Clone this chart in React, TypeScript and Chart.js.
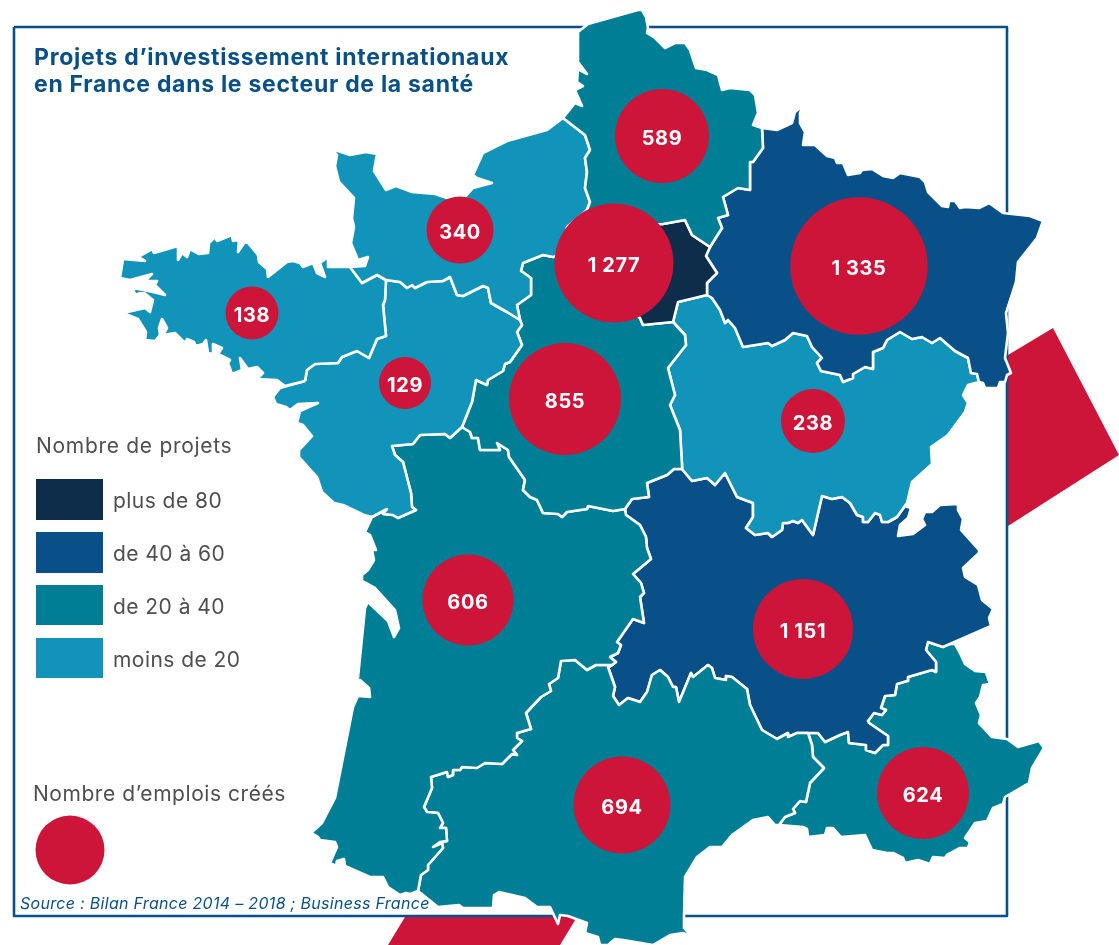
import React, { useEffect, useRef } from "react";
import { Chart, registerables } from "chart.js";

Chart.register(...registerables);

type Pt = [number, number];

// Map outlines, in map units. Shared borders are kept once and reused.
const hdfCoast: Pt[] = [[563,118],[575,103],[582,106],[575,90],[583,86],[577,82],[578,69],[587,74],[578,62],[578,32],[588,24],[638,10],[642,10],[646,17],[648,28],[647,33],[655,38],[665,48],[675,43],[685,43],[690,50],[696,68],[707,70],[718,75],[722,90],[730,88],[750,90],[755,95],[758,113],[753,125],[762,128]];
const hdfGrandEst: Pt[] = [[762,128],[763,148],[753,162],[750,162],[750,190],[738,188],[723,197],[728,215],[718,218],[722,228],[710,247]];
const hdfIdf: Pt[] = [[710,247],[692,235],[685,220],[663,224],[640,225],[600,225]];
const hdfWest: Pt[] = [[600,225],[587,210],[590,202]];
const hdfNormandy: Pt[] = [[590,202],[585,188],[587,172],[585,158],[590,150],[585,135],[563,118]];
const idfGrandEst: Pt[] = [[710,247],[706,256],[717,273],[707,283],[707,295]];
const idfSouth: Pt[] = [[707,295],[678,302],[673,322],[643,325],[640,318],[620,300],[560,255]];
const idfNormandy: Pt[] = [[560,255],[567,227],[587,210],[590,202]];
const normandyCoast: Pt[] = [[563,118],[547,130],[507,141],[483,153],[473,175],[477,178],[492,183],[473,188],[465,197],[447,198],[435,194],[412,192],[396,186],[386,190],[374,171],[377,154],[366,152],[350,155],[332,149],[337,155],[335,166],[339,182],[354,198],[352,218],[354,227],[351,243],[358,260],[368,257],[365,266],[350,267]];
const normandyBrittany: Pt[] = [[350,267],[362,283],[377,275],[386,280]];
const normandyLoire: Pt[] = [[386,280],[400,282],[407,288],[412,285],[415,288],[427,282],[443,281],[450,277],[457,295],[463,296],[483,286],[488,288],[491,303],[507,312],[520,320]];
const normandyCentre: Pt[] = [[520,320],[517,305],[531,295],[531,278],[521,271],[523,263],[543,255],[553,257],[560,255]];
const brittanyCoast: Pt[] = [[350,267],[328,267],[328,257],[320,263],[325,277],[317,273],[313,263],[303,267],[300,263],[293,261],[287,262],[268,277],[267,269],[259,262],[258,255],[248,243],[245,242],[238,252],[239,240],[233,241],[232,235],[217,241],[215,237],[209,243],[208,253],[199,254],[190,249],[187,257],[182,253],[178,260],[178,246],[154,253],[152,249],[138,257],[145,261],[123,259],[120,278],[130,280],[152,274],[145,281],[157,281],[155,285],[165,295],[153,292],[133,288],[135,295],[143,292],[153,300],[150,312],[145,308],[123,313],[138,319],[146,332],[145,340],[155,341],[160,335],[159,328],[162,319],[167,328],[163,335],[175,333],[185,343],[187,339],[194,342],[196,346],[203,344],[206,340],[208,353],[213,354],[213,344],[222,348],[218,354],[230,360],[228,363],[232,374],[242,370],[240,358],[248,369],[257,367],[263,373],[257,379],[277,380],[285,386],[305,381]];
const brittanyLoire: Pt[] = [[305,381],[307,370],[315,364],[338,363],[342,357],[357,351],[369,358],[377,339],[386,336],[383,305],[385,300],[386,280]];
const loireCentre: Pt[] = [[520,320],[522,325],[517,332],[522,345],[510,362],[505,364],[503,371],[488,380],[487,385],[476,380],[472,402],[462,427]];
const loireAquitaine: Pt[] = [[462,427],[450,438],[445,434],[420,435],[413,444],[392,446],[395,455],[403,462],[411,493],[412,507],[416,510],[398,518],[393,515],[383,514],[387,509],[372,517]];
const loireCoast: Pt[] = [[372,517],[364,515],[343,505],[334,503],[322,492],[317,477],[299,457],[299,450],[312,436],[303,425],[297,423],[300,411],[318,403],[298,404],[290,410],[286,407],[276,404],[273,397],[280,388],[305,381]];
const centreAquitaine: Pt[] = [[462,427],[470,432],[472,438],[478,438],[480,450],[500,450],[497,443],[508,450],[509,457],[525,480],[523,490],[530,497],[537,500],[543,513],[558,514],[562,517],[567,512],[587,509],[588,506],[613,511],[625,509]];
const centreAuvergne: Pt[] = [[625,509],[632,499],[649,497],[647,483],[667,475],[674,469],[682,469]];
const centreBourgogne: Pt[] = [[682,469],[682,465],[680,430],[670,405],[675,395],[668,368],[686,345],[685,335],[673,322]];
const bourgogneGrandEst: Pt[] = [[707,295],[712,298],[720,310],[725,323],[728,320],[735,328],[743,347],[768,343],[772,346],[785,340],[793,333],[807,336],[812,347],[822,358],[817,363],[821,371],[840,375],[843,382],[853,378],[853,374],[865,367],[873,369],[873,352],[883,348],[887,340],[900,332],[912,339],[922,337],[932,343],[940,338],[955,351],[968,358],[971,373],[977,374],[979,382]];
const bourgogneEast: Pt[] = [[979,382],[968,385],[963,395],[968,403],[965,412],[948,435],[931,447],[932,464],[912,482],[907,503]];
const bourgogneAuvergne: Pt[] = [[907,503],[897,517],[888,522],[882,522],[880,515],[875,513],[868,522],[863,522],[863,517],[857,515],[850,503],[842,497],[832,499],[822,496],[813,535],[802,520],[798,523],[793,521],[788,523],[783,523],[782,530],[772,537],[768,533],[755,535],[746,528],[753,517],[753,503],[737,497],[725,473],[715,485],[707,478],[692,481],[682,469]];
const grandEstBorder: Pt[] = [[762,128],[777,130],[792,123],[795,112],[803,106],[800,113],[800,123],[805,132],[803,145],[815,145],[827,156],[835,158],[837,163],[843,163],[848,175],[860,173],[862,170],[872,169],[883,176],[893,178],[900,173],[920,177],[925,182],[928,192],[942,206],[948,207],[949,201],[955,201],[960,208],[965,207],[979,208],[989,203],[1003,213],[1030,216],[1043,221],[1037,238],[1018,262],[1016,282],[1006,313],[1008,333],[1005,358],[1011,373],[1007,375],[1005,382],[1000,382],[998,388],[985,388],[983,383],[979,382]];
const aquitaineCoast: Pt[] = [[372,517],[365,532],[370,535],[376,550],[372,550],[374,560],[368,570],[362,575],[362,581],[375,588],[395,610],[399,628],[394,637],[388,621],[368,602],[365,608],[357,687],[360,680],[369,688],[370,697],[358,696],[353,707],[335,798],[322,823],[311,833],[318,837],[320,840],[335,842],[337,847],[330,863],[336,866],[337,861],[344,859],[345,866],[370,877],[383,877],[388,887],[400,895],[406,893],[410,894],[418,891]];
const aquitaineOccitanie: Pt[] = [[418,891],[421,875],[428,870],[428,865],[443,848],[442,843],[433,847],[440,842],[447,841],[446,828],[440,828],[443,823],[438,813],[427,812],[424,807],[432,788],[431,777],[447,772],[448,777],[453,775],[453,770],[460,770],[462,767],[477,768],[485,763],[502,764],[512,754],[517,755],[513,750],[522,741],[517,738],[517,733],[531,729],[526,713],[541,697],[551,691],[549,684],[558,678],[561,661],[575,660],[587,670],[596,665],[612,665]];
const aquitaineAuvergne: Pt[] = [[612,665],[616,662],[610,657],[618,653],[621,645],[617,642],[633,619],[644,623],[640,597],[644,593],[641,583],[633,574],[651,559],[647,548],[646,537],[640,525],[626,515],[625,509]];
const occitanieAuvergne: Pt[] = [[612,665],[608,667],[615,687],[613,696],[619,705],[628,698],[640,702],[647,692],[652,675],[660,670],[668,677],[673,687],[676,687],[679,702],[691,673],[693,677],[708,665],[712,668],[715,678],[726,680],[726,676],[732,677],[747,689],[750,705],[762,730],[777,739],[788,733],[788,737],[797,733],[808,733]];
const occitaniePaca: Pt[] = [[808,733],[812,745],[813,757],[824,768],[810,783],[806,802],[800,801],[793,809],[795,813],[785,817],[779,825]];
const occitanieCoast: Pt[] = [[779,825],[775,825],[768,817],[753,820],[732,835],[722,847],[710,847],[697,857],[685,877],[684,917],[684,928],[692,937],[683,933],[670,935],[653,945],[623,940],[615,939],[608,945],[600,945],[598,937],[585,933],[587,923],[568,916],[560,915],[558,924],[550,907],[537,907],[525,898],[499,892],[494,895],[493,908],[463,908],[459,905],[438,907],[418,891]];
const pacaAuvergne: Pt[] = [[808,733],[818,733],[825,742],[840,735],[848,732],[849,743],[866,745],[866,750],[875,753],[883,745],[888,745],[888,736],[869,723],[868,721],[874,713],[882,715],[886,710],[881,708],[885,696],[895,695],[897,684],[907,681],[908,677],[932,670],[936,672],[936,662],[926,650],[928,642],[943,647]];
const pacaCoast: Pt[] = [[943,647],[947,644],[955,644],[960,653],[965,664],[975,671],[986,672],[990,684],[983,685],[980,697],[976,703],[981,715],[979,723],[992,737],[1007,739],[1018,747],[1039,741],[1044,748],[1032,768],[1029,783],[1005,797],[1003,804],[993,808],[987,821],[975,823],[965,838],[970,842],[968,848],[960,848],[947,855],[945,858],[933,857],[930,864],[918,860],[905,863],[903,858],[893,853],[887,853],[872,850],[865,835],[841,837],[833,828],[827,828],[825,835],[808,837],[807,829],[803,827],[779,825]];
const auvergneEast: Pt[] = [[907,503],[908,507],[911,508],[908,518],[900,525],[898,536],[913,534],[925,525],[922,519],[925,512],[932,512],[940,505],[958,504],[958,510],[963,519],[961,530],[979,550],[979,553],[963,568],[965,577],[978,585],[982,600],[993,609],[989,618],[991,626],[943,647]];

const rev = (a: Pt[]): Pt[] => [...a].reverse();
const join = (...parts: Pt[][]): Pt[] => parts.flat();

const regionNames = ["Hauts-de-France","Île-de-France","Normandie","Bretagne","Pays de la Loire","Centre-Val de Loire","Grand Est","Bourgogne-Franche-Comté","Nouvelle-Aquitaine","Occitanie","Auvergne-Rhône-Alpes","Provence-Alpes-Côte d'Azur"];
const regionClass = [2,0,3,3,3,2,1,3,2,2,1,2];
const regionOutlines: Pt[][] = [
  join(hdfCoast, hdfGrandEst, hdfIdf, hdfWest, hdfNormandy),
  join(rev(hdfIdf), idfGrandEst, idfSouth),
  join(rev(hdfNormandy), rev(idfNormandy), rev(normandyCentre), rev(normandyLoire), rev(normandyBrittany), rev(normandyCoast)),
  join(rev(brittanyCoast), normandyBrittany, rev(brittanyLoire)),
  join(brittanyLoire, normandyLoire, loireCentre, loireAquitaine, loireCoast),
  join(rev(normandyCentre), loireCentre, centreAquitaine, centreAuvergne, centreBourgogne, idfSouth.slice(2)),
  join(rev(hdfGrandEst), grandEstBorder, rev(bourgogneGrandEst), rev(idfGrandEst)),
  join(bourgogneGrandEst, bourgogneEast, bourgogneAuvergne, centreBourgogne, [[678,302],[707,295]]),
  join(aquitaineCoast, aquitaineOccitanie, aquitaineAuvergne, rev(centreAquitaine), loireAquitaine),
  join(occitanieCoast, aquitaineOccitanie, occitanieAuvergne, occitaniePaca),
  join(rev(centreAuvergne), rev(aquitaineAuvergne), occitanieAuvergne, pacaAuvergne, rev(auvergneEast), rev(bourgogneAuvergne)),
  join(rev(occitaniePaca), pacaAuvergne, pacaCoast),
];

const classColors = ["#0d2d4b", "#0a5088", "#007e96", "#1293b9"];
const classLabels = ["plus de 80", "de 40 à 60", "de 20 à 40", "moins de 20"];

const jobLabels = ["589", "340", "1 277", "1 335", "138", "129", "855", "238", "606", "1 151", "694", "624"];
const bubbleX = [662, 460, 614, 859, 252, 405, 565, 813, 468, 803, 622, 923];
const bubbleY = [136, 230, 263, 266, 313, 383, 399, 421, 600, 629, 805, 793];
const bubbleR = [47, 33.5, 59.5, 68.7, 26.5, 26, 56, 32, 45.5, 50, 48.5, 46];

const frameLine: Pt[] = [[14,27],[1007,27],[1007,916],[14,916],[14,27]];
const redRight: Pt[] = [[1008,355],[1053,328],[1119,455],[1008,526]];
const redBottom: Pt[] = [[405,917],[577,917],[560,945],[388,945]];
const swatchBoxes: Pt[][] = [
  [[36,479],[103,479],[103,520],[36,520]],
  [[36,532],[103,532],[103,573],[36,573]],
  [[36,585],[103,585],[103,625],[36,625]],
  [[36,638],[103,638],[103,678],[36,678]],
];
const legendBubble = { x: 70, y: 850, r: 34.5 };

const titleLines = ["Projets d’investissement internationaux", "en France dans le secteur de la santé"];
const legendTitle = "Nombre de projets";
const bubbleLegendTitle = "Nombre d’emplois créés";
const sourceText = "Source : Bilan France 2014 – 2018 ; Business France";

const FONT = "Inter, 'Noto Sans', sans-serif";
const BLUE = "#0a5088";
const RED = "#cc1539";
const GREY = "#4f4f4f";

const toXY = (pts: Pt[]) => pts.map(([x, y]) => ({ x, y }));

const polyFill = {
  id: "polyFill",
  beforeDatasetDraw(chart: any, args: any) {
    const ds = chart.data.datasets[args.index];
    if (!ds.polyColor) return;
    const pts = args.meta.data;
    const ctx = chart.ctx;
    ctx.save();
    ctx.beginPath();
    pts.forEach((p: any, i: number) => (i ? ctx.lineTo(p.x, p.y) : ctx.moveTo(p.x, p.y)));
    ctx.closePath();
    ctx.fillStyle = ds.polyColor;
    ctx.fill();
    ctx.restore();
  },
};

const textLayer = {
  id: "textLayer",
  afterDatasetsDraw(chart: any) {
    const ctx = chart.ctx;
    const sx = chart.scales.x;
    const sy = chart.scales.y;
    const putPx = (s: string, x: number, y: number, font: string, color: string, spacing = 0, align: CanvasTextAlign = "left") => {
      ctx.font = font;
      ctx.fillStyle = color;
      ctx.textAlign = align;
      ctx.textBaseline = "alphabetic";
      ctx.letterSpacing = spacing + "px";
      ctx.fillText(s, x, y);
    };
    const put = (s: string, x: number, y: number, font: string, color: string, spacing = 0) =>
      putPx(s, sx.getPixelForValue(x), sy.getPixelForValue(y), font, color, spacing);
    ctx.save();
    put(titleLines[0], 34, 65, `700 23px ${FONT}`, BLUE, 0.73);
    put(titleLines[1], 34, 92, `700 23px ${FONT}`, BLUE, 0.7);
    put(legendTitle, 36, 453, `400 21px ${FONT}`, GREY, 0.7);
    classLabels.forEach((t, i) => put(t, 113, [508, 561, 614, 667][i], `400 21px ${FONT}`, GREY, 0.45));
    put(bubbleLegendTitle, 33, 801, `400 21px ${FONT}`, GREY, 0.55);
    put(sourceText, 20, 909, `italic 400 16px ${FONT}`, BLUE, 0.3);
    const idx = chart.data.datasets.findIndex((d: any) => d.label === "Emplois créés");
    const meta = chart.getDatasetMeta(idx);
    meta.data.forEach((el: any, i: number) => {
      putPx(jobLabels[i], el.x, el.y + 8.5, `700 20px ${FONT}`, "#ffffff", 0.6, "center");
    });
    ctx.restore();
  },
};

export default function App() {
  const ref = useRef<HTMLCanvasElement>(null);
  useEffect(() => {
    document.body.style.margin = "0";
    const polygon = (label: string, pts: Pt[], fill: string | null, line: string, width: number, order: number) => ({
      type: "scatter" as const,
      label,
      data: toXY(fill ? [...pts, pts[0]] : pts),
      showLine: true,
      pointRadius: 0,
      pointHoverRadius: 0,
      borderColor: line,
      borderWidth: width,
      borderJoinStyle: "round",
      polyColor: fill,
      order,
    });
    const datasets: any[] = [
      {
        type: "bubble",
        label: "Emplois créés",
        data: bubbleX.map((x, i) => ({ x, y: bubbleY[i], r: bubbleR[i] })),
        backgroundColor: RED,
        borderWidth: 0,
        order: 1,
      },
      {
        type: "bubble",
        label: "Légende emplois",
        data: [legendBubble],
        backgroundColor: RED,
        borderWidth: 0,
        order: 2,
      },
      ...regionOutlines.map((pts, i) => polygon(regionNames[i], pts, classColors[regionClass[i]], "#ffffff", 2.6, 10 + i)),
      ...swatchBoxes.map((pts, i) => polygon(classLabels[i], pts, classColors[i], classColors[i], 0, 30 + i)),
      polygon("Cadre", frameLine, null, BLUE, 2.6, 40),
      polygon("Aplat droit", redRight, RED, RED, 0, 41),
      polygon("Aplat bas", redBottom, RED, RED, 0, 42),
    ];
    const chart = new Chart(ref.current as HTMLCanvasElement, {
      type: "scatter",
      data: { datasets },
      plugins: [polyFill, textLayer],
      options: {
        animation: false,
        responsive: false,
        layout: { padding: 0, autoPadding: false },
        plugins: { legend: { display: false }, title: { display: false }, tooltip: { enabled: false } },
        events: [],
        scales: {
          x: { type: "linear", min: 0, max: 1119, display: false },
          y: { type: "linear", min: 0, max: 945, reverse: true, display: false },
        },
      },
    } as any);
    return () => chart.destroy();
  }, []);
  return (
    <div style={{ position: "absolute", left: 0, top: 0, width: 1119, height: 945 }}>
      <canvas ref={ref} width={1119} height={945} style={{ display: "block" }} />
    </div>
  );
}
